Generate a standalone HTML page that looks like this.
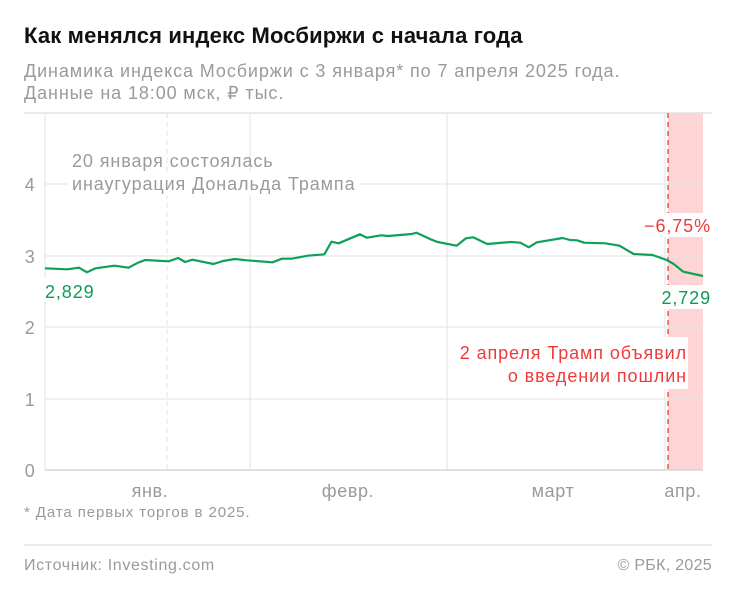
<!DOCTYPE html>
<html><head><meta charset="utf-8"><style>
body{margin:0;background:#fff;width:736px;height:600px;overflow:hidden;font-family:"Liberation Sans",sans-serif;position:relative}
.t{position:absolute;white-space:nowrap}
</style></head><body>
<div class="t" style="left:24px;top:23px;font-size:22px;letter-spacing:0.15px;font-weight:bold;color:#111">Как менялся индекс Мосбиржи с начала года</div>
<div class="t" style="left:24px;top:60px;font-size:18px;letter-spacing:0.9px;color:#9a9a9a;line-height:22px">Динамика индекса Мосбиржи с 3 января* по 7 апреля 2025 года.<br>Данные на 18:00 мск, ₽ тыс.</div>
<svg width="736" height="600" style="position:absolute;left:0;top:0" font-family="Liberation Sans, sans-serif">
<rect x="668" y="113" width="35" height="357" fill="#fdd5d5"/>
<line x1="24" y1="113" x2="712" y2="113" stroke="#e2e2e2" stroke-width="1.5"/>
<g stroke="#e2e2e2" stroke-width="1">
<line x1="45" y1="184" x2="703" y2="184"/><line x1="45" y1="256" x2="703" y2="256"/>
<line x1="45" y1="327" x2="703" y2="327"/><line x1="45" y1="399" x2="703" y2="399"/>
<line x1="45" y1="113" x2="45" y2="470"/><line x1="250" y1="113" x2="250" y2="470"/>
<line x1="447" y1="113" x2="447" y2="470"/><line x1="665" y1="113" x2="665" y2="470"/>
<line x1="167" y1="113" x2="167" y2="470" stroke-dasharray="5,4"/>
</g>
<line x1="45" y1="470" x2="703" y2="470" stroke="#d5d5d5" stroke-width="1.5"/>
<line x1="668" y1="113" x2="668" y2="470" stroke="#f03a3a" stroke-width="1.3" stroke-dasharray="5,4"/>
<g font-size="18" fill="#9a9a9a" text-anchor="middle" letter-spacing="0.6">
<text x="30" y="191">4</text><text x="30" y="263">3</text><text x="30" y="334">2</text><text x="30" y="406">1</text><text x="30" y="477">0</text>
<text x="150" y="497">янв.</text><text x="348" y="497">февр.</text><text x="553" y="497">март</text><text x="683" y="497">апр.</text>
</g>
<rect x="68" y="172" width="292" height="23" fill="#fff"/>
<g font-size="18" letter-spacing="0.9">
<text x="72" y="167" fill="#9a9a9a">20 января состоялась</text>
<text x="72" y="190" fill="#9a9a9a">инаугурация Дональда Трампа</text>
</g>
<polyline id="ln" fill="none" stroke="#0ea05a" stroke-width="2.2" stroke-linejoin="round"/>
<rect x="646" y="213" width="66" height="24" fill="#fff"/>
<rect x="662" y="285" width="50" height="24" fill="#fff"/>
<rect x="42" y="278" width="54" height="24" fill="#fff"/>
<rect x="455" y="337" width="233" height="52" fill="#fff"/>
<g font-size="18" letter-spacing="0.9">
<text x="711" y="232" fill="#f03a3a" text-anchor="end">−6,75%</text>
<text x="711" y="304" fill="#0e9a55" text-anchor="end">2,729</text>
<text x="45" y="298" fill="#0e9a55">2,829</text>
<text x="687" y="359" fill="#f03a3a" text-anchor="end">2 апреля Трамп объявил</text>
<text x="687" y="382" fill="#f03a3a" text-anchor="end">о введении пошлин</text>
</g>
<line x1="24" y1="545" x2="712" y2="545" stroke="#e2e2e2" stroke-width="1.5"/>
</svg>
<div class="t" style="left:24px;top:504px;font-size:15px;letter-spacing:0.9px;color:#9a9a9a">* Дата первых торгов в 2025.</div>
<div class="t" style="left:24px;top:557px;font-size:16px;letter-spacing:0.65px;color:#9a9a9a">Источник: Investing.com</div>
<div class="t" style="right:24px;top:557px;font-size:16px;letter-spacing:0.3px;color:#9a9a9a">© РБК, 2025</div>
<script>
var z=[[103,505],[150,508],[175,503],[192,517],[210,505],[250,497],[280,503],[300,488],[315,480],[365,484],[385,474],[400,486],[415,479],[460,492],[480,483],[505,477],[530,481],[585,487],[605,476],[625,476],[660,467],[695,463],[710,425],[725,430],[770,403],[785,413],[815,406],[830,408],[880,402],[890,398],[920,418],[935,426],[975,437],[995,415],[1010,412],[1040,432],[1090,426],[1110,428],[1128,442],[1145,427],[1200,414],[1215,420],[1230,421],[1245,428],[1290,430],[1320,437],[1350,462],[1390,465],[1420,480],[1435,492],[1455,515],[1497,528]];
var x0=103,x1=1497;
document.getElementById('ln').setAttribute('points',z.map(function(p){return (45+(p[0]-x0)/(x1-x0)*658).toFixed(1)+','+(100+p[1]/3).toFixed(1)}).join(' '));
</script>
</body></html>
